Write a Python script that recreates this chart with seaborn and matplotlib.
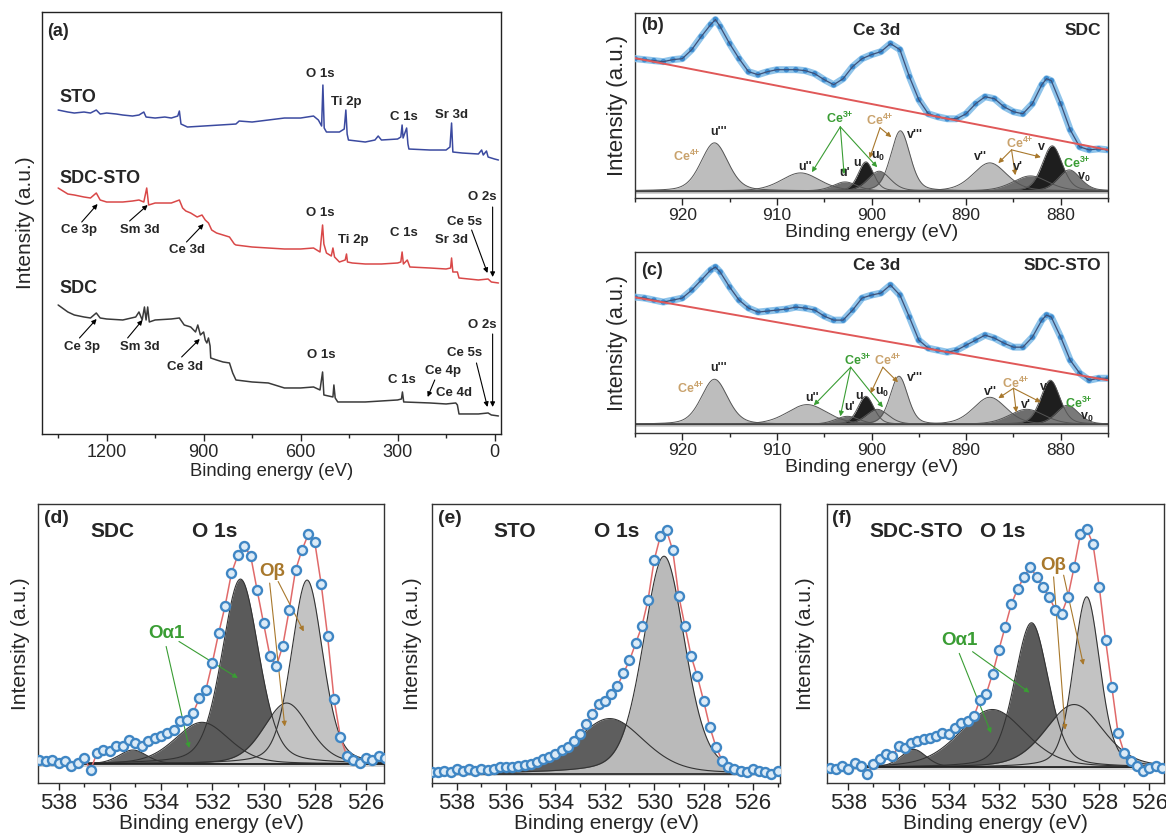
import numpy as np
import pandas as pd
import matplotlib.pyplot as plt
import seaborn as sns
from matplotlib.ticker import MultipleLocator

# ---------------- (a) survey spectra, (binding energy, intensity)
sto_energy = [1350, 1320, 1300, 1270, 1250, 1232, 1220, 1200, 1170, 1150, 1120, 1100, 1085, 1078,
              1050, 1020, 1000, 980, 975, 970, 950, 900, 850, 800, 790, 750, 700, 650, 600, 560,
              545, 535, 531, 527, 520, 480, 465, 460, 456, 452, 400, 370, 360, 350, 300, 290,
              286, 283, 272, 268, 265, 200, 150, 138, 133, 129, 100, 50, 40, 35, 25, 20, 0, -12]
sto_counts = [324, 322, 321, 322, 321, 324, 320, 321, 320, 319, 318, 319, 322, 317,
              316, 317, 316, 318, 323, 310, 307, 308, 309, 310, 313, 312, 314, 316, 316, 318,
              314, 308, 349, 306, 302, 302, 305, 324, 300, 294, 292, 294, 298, 294, 295, 297,
              309, 296, 306, 290, 285, 284, 284, 287, 311, 282, 281, 280, 284, 279, 283, 277, 275, 274]

sdcsto_energy = [1350, 1320, 1300, 1270, 1250, 1232, 1220, 1200, 1170, 1150, 1120, 1100, 1085, 1076,
                 1070, 1050, 1000, 975, 965, 955, 940, 920, 905, 895, 885, 875, 860, 840, 820, 805,
                 800, 750, 700, 650, 600, 560, 540, 532, 528, 520, 505, 500, 495, 480, 462, 458,
                 455, 440, 400, 350, 300, 290, 286, 282, 270, 262, 200, 150, 136, 133, 129, 115,
                 110, 50, 20, 10, -12]
sdcsto_counts = [246, 240, 239, 237, 236, 241, 234, 232, 232, 232, 233, 234, 232, 246,
                 229, 231, 231, 234, 226, 223, 221, 217, 219, 214, 211, 204, 201, 199, 197, 190,
                 189, 187, 186, 185, 185, 186, 182, 209, 190, 181, 178, 186, 177, 172, 174, 180,
                 172, 171, 170, 170, 171, 172, 182, 170, 174, 167, 166, 165, 166, 176, 162, 162,
                 156, 154, 155, 152, 151]

sdc_energy = [1350, 1320, 1300, 1270, 1250, 1232, 1220, 1200, 1150, 1110, 1100, 1090, 1083, 1078,
              1073, 1068, 1050, 1000, 975, 960, 940, 925, 918, 910, 900, 895, 890, 885, 880, 878,
              860, 840, 820, 810, 800, 750, 700, 650, 600, 560, 540, 532, 528, 500, 497, 493,
              485, 400, 300, 288, 285, 281, 200, 150, 120, 115, 110, 50, 20, 10, -12]
sdc_counts = [129, 122, 119, 117, 116, 121, 116, 115, 114, 117, 122, 114, 127, 114,
              127, 112, 114, 115, 116, 109, 107, 102, 109, 99, 102, 94, 91, 96, 88, 76,
              74, 72, 71, 61, 54, 52, 51, 46, 46, 47, 44, 62, 39, 37, 49, 36,
              32, 32, 34, 35, 42, 32, 31, 30, 31, 29, 20, 20, 21, 19, 18]

# ---------------- (b)/(c) Ce 3d: measured spectrum + fitted components
ce_energy = [925, 924, 923, 922, 921, 920, 919, 918, 917, 916.5, 916, 915, 914, 913, 912, 911,
             910, 909, 908, 907, 906, 905, 904, 903, 902, 901, 900, 899, 898, 897, 896, 895,
             894, 893, 892, 891, 890, 889, 888, 887, 886, 885, 884, 883, 882, 881.5, 881, 880,
             879, 878, 877, 876, 875]
sdc_ce_counts = [132, 131, 130, 129, 131, 132, 141, 154, 166, 171, 164, 147, 132, 119, 116, 119,
                 121, 121, 121, 120, 117, 111, 106, 112, 124, 132, 136, 139, 147, 141, 114, 91,
                 77, 74, 72, 72, 77, 87, 94, 92, 84, 79, 77, 87, 106, 112, 110, 87,
                 61, 44, 41, 42, 41]
sdcsto_ce_counts = [127, 126, 124, 122, 124, 126, 134, 144, 154, 157, 152, 137, 124, 116, 112, 113,
                    114, 115, 117, 116, 114, 108, 104, 104, 114, 126, 129, 131, 139, 129, 107, 84,
                    76, 74, 72, 74, 79, 84, 89, 86, 81, 77, 77, 87, 104, 109, 107, 87,
                    64, 51, 44, 46, 46]
ce_bg_energy = [925, 875]
sdc_ce_bg = [132.5, 41]
sdcsto_ce_bg = [126.7, 44]

ce_peaks = ["u'''", "u''", "u'", "u", "u0", "v'''", "v''", "v'", "v", "v0"]
ce_colors = ["#bdbdbd", "#bdbdbd", "#6e6e6e", "#1e1e1e", "#7a7a7a",
             "#bdbdbd", "#bdbdbd", "#6e6e6e", "#1e1e1e", "#7a7a7a"]
sdc_ce_center = [916.6, 907.5, 902.8, 900.6, 899.2, 896.95, 887.5, 883.2, 880.9, 879.1]
sdc_ce_height = [48, 18, 9, 29, 19.7, 60, 28, 15, 45, 21]
sdc_ce_fwhm = [3.4, 4.8, 3.0, 1.9, 2.8, 2.4, 4.2, 4.4, 2.5, 2.8]
sdcsto_ce_center = [916.6, 906.8, 902.55, 900.6, 899.4, 897.1, 887.5, 883.6, 881.1, 879.3]
sdcsto_ce_height = [45, 19.7, 8, 28, 15, 48, 27, 15, 44, 19]
sdcsto_ce_fwhm = [3.3, 5.0, 3.0, 2.0, 2.8, 2.2, 4.1, 4.4, 2.4, 2.8]

# ---------------- (d)-(f) O 1s
d_energy = np.arange(538.75, 525.0, -0.25)
d_counts = [4, 3, 4, 1, 3, -2, 1, 6, -6, 11, 14, 13, 18, 18, 24, 21, 18, 23, 26, 28, 31, 34, 43, 44,
            51, 66, 74, 101, 131, 158, 191, 209, 218, 208, 174, 141, 108, 98, 118, 154, 194, 214,
            230, 222, 180, 128, 65, 27, 8, 4, 1, 6, 4, 8, 6]
d_center = [535.1, 532.4, 530.9, 529.1, 528.3]
d_height = [14, 41.7, 185, 61, 184]
d_fwhm = [1.3, 2.5, 1.7, 2.1, 1.45]

e_energy = np.arange(539.0, 524.9, -0.25)
e_counts = [2, 2, 3, 2, 5, 3, 5, 3, 5, 4, 5, 7, 7, 7, 8, 9, 10, 12, 15, 17, 20, 24, 27, 33, 40, 50,
            60, 70, 73, 80, 87, 100, 113, 130, 147, 173, 213, 237, 243, 223, 177, 147, 117, 97, 73,
            47, 27, 13, 7, 5, 3, 2, 5, 3, 2, 0, 3]
e_center = [531.8, 529.6]
e_height = [55, 217]
e_fwhm = [3.3, 2.0]

f_energy = np.arange(538.75, 525.4, -0.25)
f_counts = [-1, -2, 1, -2, 4, 1, -7, 3, 8, 13, 11, 21, 19, 24, 26, 28, 29, 31, 34, 33, 39, 44, 46,
            51, 68, 74, 94, 118, 141, 164, 179, 191, 201, 191, 181, 171, 158, 154, 171, 201, 234,
            239, 224, 181, 128, 81, 34, 14, 6, 1, -4, -1, 1, -1]
f_center = [535.4, 532.26, 530.7, 529.0, 528.5]
f_height = [18, 58, 145, 63, 171]
f_fwhm = [1.2, 3.1, 1.6, 2.7, 1.25]
o_colors = ["#686868", "#606060", "#5a5a5a", "#b9b9b9", "#c3c3c3"]

TAN, GREEN, BROWN = "#c9a26c", "#3a9d34", "#a8782c"
CE4 = r"Ce$^{\mathbf{4{+}}}$"
CE3 = r"Ce$^{\mathbf{3{+}}}$"


def gl_peak(e, center, height, fwhm, eta=0.3):
    # Gaussian-Lorentzian shape used by the XPS fit (GL30)
    x = (np.asarray(e) - center) / fwhm
    return height * ((1 - eta) * np.exp(-4 * np.log(2) * x ** 2) + eta / (1 + 4 * x ** 2))


def style_axis(ax, major, minor, tick_fs):
    ax.xaxis.set_major_locator(MultipleLocator(major))
    ax.xaxis.set_minor_locator(MultipleLocator(minor))
    ax.set_yticks([])
    ax.tick_params(axis="x", which="major", direction="out", length=5, width=1, labelsize=tick_fs, pad=2)
    ax.tick_params(axis="x", which="minor", direction="out", length=3, width=1)
    for s in ax.spines.values():
        s.set_color("#333333")
        s.set_linewidth(1.0)


def arrow(ax, start, end, color, lw=0.8):
    ax.annotate("", xy=end, xytext=start,
                arrowprops=dict(arrowstyle="-|>", color=color, lw=lw, mutation_scale=7,
                                shrinkA=0, shrinkB=0))


sns.set_theme(style="ticks")
plt.rcParams["font.family"] = ["Liberation Sans", "DejaVu Sans"]
plt.rcParams["mathtext.fontset"] = "custom"
plt.rcParams["mathtext.rm"] = "Liberation Sans"
plt.rcParams["mathtext.bf"] = "Liberation Sans:bold"

fig = plt.figure(figsize=(11.66, 8.36), dpi=100)

# ======================= (a)
ax = fig.add_axes([0.036, 0.4809, 0.3937, 0.5047])
sns.lineplot(x=sto_energy, y=sto_counts, ax=ax, color="#3b4aa0", lw=1.1, sort=False, estimator=None)
sns.lineplot(x=sdcsto_energy, y=sdcsto_counts, ax=ax, color="#d94848", lw=1.1, sort=False, estimator=None)
sns.lineplot(x=sdc_energy, y=sdc_counts, ax=ax, color="#3a3a3a", lw=1.1, sort=False, estimator=None)
ax.set_xlim(1400, -20)
ax.set_ylim(0, 422)
style_axis(ax, 300, 150, 13)
for s in ax.spines.values():
    s.set_color("#222222")
ax.set_xlabel("Binding energy (eV)", fontsize=13.3, labelpad=2)
ax.set_ylabel("Intensity (a.u.)", fontsize=15, labelpad=5)
ax.text(0.012, 0.955, "(a)", transform=ax.transAxes, fontsize=13, fontweight="bold", va="center")
for name, yy in [("STO", 337), ("SDC-STO", 256), ("SDC", 145)]:
    ax.text(1345, yy, name, fontsize=13, fontweight="bold", va="center", ha="left")
a_text = ["O 1s", "Ti 2p", "C 1s", "Sr 3d",
          "O 1s", "Ti 2p", "C 1s", "Sr 3d", "Ce 5s", "O 2s", "Ce 3p", "Sm 3d", "Ce 3d",
          "Ce 3p", "Sm 3d", "Ce 3d", "O 1s", "C 1s", "Ce 4p", "Ce 4d", "Ce 5s", "O 2s"]
a_text_e = [538, 458, 281, 133,
            538, 436, 281, 133, 93, 37, 1284, 1098, 950,
            1277, 1098, 959, 535, 288, 161, 127, 93, 37]
a_text_h = [360, 332, 317, 319,
            221, 194, 201, 194, 212, 237, 204, 204, 184,
            87, 87, 67, 79, 54, 63, 41, 81, 109]
for t, x, y in zip(a_text, a_text_e, a_text_h):
    ax.text(x, y, t, fontsize=9.5, fontweight="bold", ha="center", va="center")
a_arrows = [((1277, 212), (1228, 230)), ((1129, 213), (1073, 229)), ((953, 192), (900, 210)),
            ((71, 204), (22, 161)), ((6, 227), (6, 157)),
            ((1284, 96), (1231, 115)), ((1135, 96), (1089, 114)), ((968, 77), (912, 95)),
            ((185, 54), (207, 37)), ((56, 71), (22, 27)), ((6, 100), (6, 27))]
for st, en in a_arrows:
    arrow(ax, st, en, "black", lw=0.8)


# ======================= (b), (c)
def ce_panel(rect, counts, bg, centers, heights, fwhms, ylim, sample, tag, lab_e, lab_h,
             ce4, ce3, green_arrows, tan_arrows, ylab_fs, title_y, tag_y):
    ax = fig.add_axes(rect)
    grid = np.linspace(925, 875, 1001)
    comps = [gl_peak(grid, c, h, w) for c, h, w in zip(centers, heights, fwhms)]
    ax.axhspan(-2.7, 0, color="#d2d2d2", lw=0, zorder=0)
    for comp, col in zip(comps, ce_colors):
        ax.fill_between(grid, 0, comp, color=col, lw=0, zorder=1)
    for comp in comps:
        ax.plot(grid, comp, color="#555555", lw=0.7, zorder=2)
    ax.axhline(0, color="#444444", lw=1.0, zorder=2)
    # measured points (light band) and the fit trace through them
    sns.lineplot(x=ce_energy, y=counts, ax=ax, color="#8ec3ea", lw=5, sort=False,
                 estimator=None, zorder=3)
    sns.scatterplot(x=ce_energy, y=counts, ax=ax, color="#3f8dd0", s=16, edgecolor="none", zorder=4)
    sns.lineplot(x=ce_energy, y=counts, ax=ax, color="#3e5078", lw=0.9, sort=False,
                 estimator=None, zorder=5)
    # linear background
    sns.lineplot(x=ce_bg_energy, y=bg, ax=ax, color="#e05858", lw=1.4, sort=False,
                 estimator=None, zorder=5)
    ax.set_xlim(925, 875)
    ax.set_ylim(*ylim)
    style_axis(ax, 10, 5, 12.5)
    ax.set_xlabel("Binding energy (eV)", fontsize=14, labelpad=1)
    ax.set_ylabel("Intensity (a.u.)", fontsize=ylab_fs, labelpad=5)
    ax.text(0.012, tag_y, tag, transform=ax.transAxes, fontsize=13, fontweight="bold", va="center")
    ax.text(0.51, title_y, "Ce 3d", transform=ax.transAxes, fontsize=12.5, fontweight="bold",
            va="center", ha="center")
    ax.text(0.985, title_y, sample, transform=ax.transAxes, fontsize=12.5, fontweight="bold",
            va="center", ha="right")
    names = ["u'''", "u''", "u'", "u", r"u$_\mathbf{0}$", "v'''", "v''", "v'", "v", r"v$_\mathbf{0}$"]
    for t, x, y in zip(names, lab_e, lab_h):
        ax.text(x, y, t, fontsize=9, fontweight="bold", ha="center", va="center", zorder=6)
    for x, y in ce4:
        ax.text(x, y, CE4, color=TAN, fontsize=9, fontweight="bold",
                ha="center", va="center", zorder=6)
    for x, y in ce3:
        ax.text(x, y, CE3, color=GREEN, fontsize=9, fontweight="bold",
                ha="center", va="center", zorder=6)
    for st, ends in green_arrows:
        for en in ends:
            arrow(ax, st, en, GREEN)
    for st, ends in tan_arrows:
        for en in ends:
            arrow(ax, st, en, BROWN)
    return ax


ce_panel([0.5446, 0.7632, 0.4057, 0.2212], sdc_ce_counts, sdc_ce_bg, sdc_ce_center,
         sdc_ce_height, sdc_ce_fwhm, (-7, 177.5), "SDC", "(b)",
         [916.2, 907.0, 902.8, 901.5, 899.3, 895.4, 888.5, 884.5, 882.0, 877.6],
         [58.7, 23.7, 17.7, 27.7, 34.7, 55.7, 33.7, 23.7, 43.7, 13.7],
         [(919.5, 34.7), (899.1, 70.7), (884.3, 47.7)], [(903.3, 72.7), (878.3, 27.7)],
         [((903.3, 64), [(906.3, 18.7), (902.9, 16.7), (899.4, 23.7)])],
         [((899.1, 63), [(900.2, 32.7), (897.9, 53.7)]),
          ((885.2, 41), [(886.6, 27.7), (884.8, 15.7), (882.1, 33.7)])],
         16, 0.905, 0.935)

ce_panel([0.5446, 0.482, 0.4057, 0.2166], sdcsto_ce_counts, sdcsto_ce_bg, sdcsto_ce_center,
         sdcsto_ce_height, sdcsto_ce_fwhm, (-8.7, 172), "SDC-STO", "(c)",
         [916.2, 906.3, 902.3, 901.3, 898.9, 895.4, 887.4, 883.7, 881.8, 877.3],
         [56, 26, 17, 28, 32, 46, 32, 19, 37, 7],
         [(919.1, 36), (898.3, 64), (884.7, 41)], [(901.4, 64), (878.1, 21)],
         [((902.2, 57), [(906.1, 19), (903.3, 8), (898.8, 17)])],
         [((898.8, 57), [(900.1, 31), (897.2, 42)]),
          ((885.0, 36), [(886.6, 26), (884.7, 12), (882.1, 22)])],
         15.5, 0.928, 0.895)


# ======================= (d), (e), (f)
def o_panel(rect, energy, counts, centers, heights, fwhms, colors, xlim, ylim, tag, sample,
            sample_x, o_x, ylab_pad):
    ax = fig.add_axes(rect)
    grid = np.linspace(xlim[0], xlim[1], 800)
    comps = [gl_peak(grid, c, h, w) for c, h, w in zip(centers, heights, fwhms)]
    ax.axhspan(-2.5, 0, color="#d2d2d2", lw=0, zorder=0)
    for comp, col in zip(comps, colors):
        ax.fill_between(grid, 0, comp, color=col, lw=0, zorder=1)
    for comp in comps:
        ax.plot(grid, comp, color="#333333", lw=0.8, zorder=2)
    ax.axhline(0, color="#222222", lw=1.2, zorder=2)
    sns.lineplot(x=energy, y=counts, ax=ax, color="#e06a6a", lw=1.1, sort=False,
                 estimator=None, zorder=3)
    sns.scatterplot(x=energy, y=counts, ax=ax, color="#3f86c4", facecolor="#dcebf7",
                    edgecolor="#3f86c4", linewidth=1.7, s=42, zorder=4)
    ax.set_xlim(*xlim)
    ax.set_ylim(*ylim)
    style_axis(ax, 2, 1, 16)
    ax.set_xlabel("Binding energy (eV)", fontsize=15, labelpad=0)
    ax.set_ylabel("Intensity (a.u.)", fontsize=15, labelpad=ylab_pad)
    ax.text(0.016, 0.95, tag, transform=ax.transAxes, fontsize=14, fontweight="bold", va="center")
    ax.text(sample_x, 0.9, sample, transform=ax.transAxes, fontsize=15, fontweight="bold",
            va="center", ha="center")
    ax.text(o_x, 0.9, "O 1s", transform=ax.transAxes, fontsize=15, fontweight="bold",
            va="center", ha="center")
    return ax


ax_d = o_panel([0.0326, 0.0634, 0.2967, 0.3336], d_energy, d_counts, d_center, d_height, d_fwhm,
               o_colors, (538.8, 525.3), (-19, 260), "(d)", "SDC", 0.216, 0.512, 6)
ax_d.text(533.8, 131, "Oα1", color=GREEN, fontsize=13.5, fontweight="bold", ha="center", va="center")
arrow(ax_d, (533.8, 117.6), (532.9, 16), GREEN)
arrow(ax_d, (533.3, 122.6), (531.0, 86), GREEN)
ax_d.text(529.65, 192.6, "Oβ", color=BROWN, fontsize=13.5, fontweight="bold", ha="center", va="center")
arrow(ax_d, (529.76, 181), (529.17, 37.6), BROWN)
arrow(ax_d, (529.43, 182.6), (528.43, 132.6), BROWN)

o_panel([0.3705, 0.0634, 0.2985, 0.3336], e_energy, e_counts, e_center, e_height, e_fwhm,
        ["#5e5e5e", "#bababa"], (539.0, 524.9), (-9.3, 269), "(e)", "STO", 0.238, 0.53, 7)

ax_f = o_panel([0.7093, 0.0634, 0.2894, 0.3336], f_energy, f_counts, f_center, f_height, f_fwhm,
               o_colors, (538.85, 525.4), (-15.7, 264), "(f)", "SDC-STO", 0.265, 0.52, 9)
ax_f.text(533.58, 127.7, "Oα1", color=GREEN, fontsize=13.5, fontweight="bold", ha="center", va="center")
arrow(ax_f, (533.58, 114.3), (532.31, 34.3), GREEN)
arrow(ax_f, (533.05, 116), (530.78, 75), GREEN)
ax_f.text(529.82, 202.7, "Oβ", color=BROWN, fontsize=13.5, fontweight="bold", ha="center", va="center")
arrow(ax_f, (529.82, 191), (529.36, 37.7), BROWN)
arrow(ax_f, (529.42, 192.7), (528.63, 102.7), BROWN)

fig.savefig("out.png", dpi=100)
